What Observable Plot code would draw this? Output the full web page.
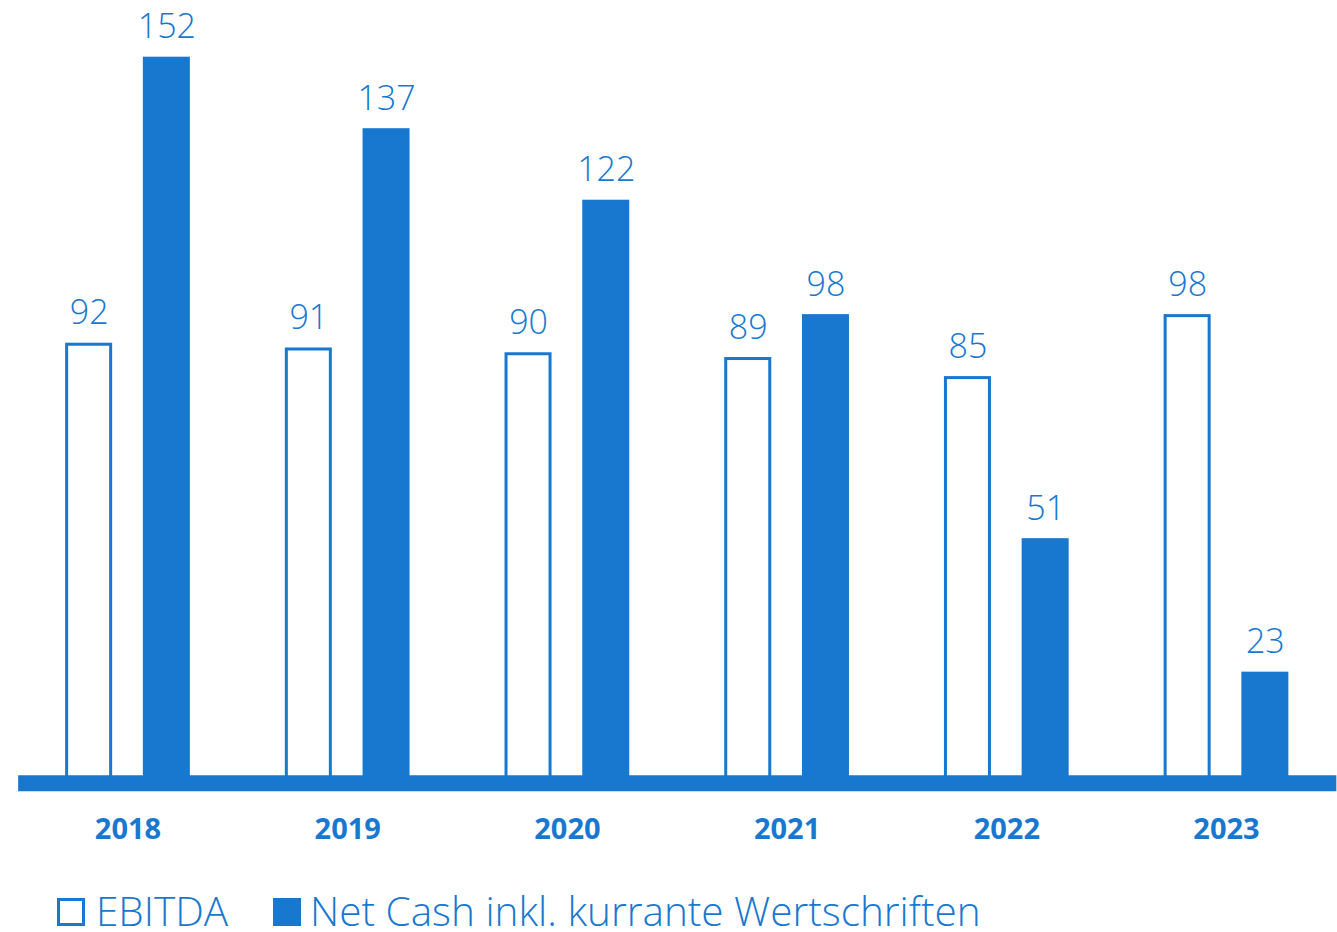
<!DOCTYPE html>
<html><head><meta charset="utf-8">
<script src="https://cdn.jsdelivr.net/npm/d3@7"></script>
<script src="https://cdn.jsdelivr.net/npm/@observablehq/plot@0.6"></script>
<style>
body{margin:0;background:#fff;font-family:"Open Sans",sans-serif;}
#chart svg{display:block;}
#legend{position:relative;height:72px;width:1337px;color:#1878cf;}
#legend .sw{position:absolute;top:38px;width:28px;height:28px;box-sizing:border-box;}
#legend .lab{position:absolute;top:35px;font-size:40.5px;line-height:0.8;font-weight:300;white-space:nowrap;}
</style></head><body>
<div id="chart"></div>
<div id="legend"></div>
<script>
const years = ["2018", "2019", "2020", "2021", "2022", "2023"];
const ebitda = [92, 91, 90, 89, 85, 98];
const netCash = [152, 137, 122, 98, 51, 23];
const series = ["EBITDA", "Net Cash inkl. kurrante Wertschriften"];
const blue = "#1878cf";

const rows = years.flatMap((y, i) => [
  {year: y, series: series[0], value: ebitda[i]},
  {year: y, series: series[1], value: netCash[i]}
]);

const plot = Plot.plot({
  width: 1337, height: 860,
  marginLeft: 17.65, marginRight: 1.15, marginTop: 56.7, marginBottom: 78.7,
  style: {fontFamily: "'Open Sans', sans-serif", background: "#fff"},
  fx: {domain: years, padding: 0, round: false, axis: null, label: null},
  x: {domain: series, paddingInner: 0.395, paddingOuter: 0.611, round: false, axis: null, label: null},
  y: {domain: [0, 152], axis: null},
  color: {domain: series, range: ["#ffffff", blue]},
  marks: [
    Plot.barY(rows, {fx: "year", x: "series", y: "value", fill: "series", stroke: blue, strokeWidth: 3, inset: 1.5}),
    Plot.frame({facet: "super", anchor: "bottom", stroke: blue, strokeWidth: 16, strokeLinecap: "butt", dy: 1.5}),
    Plot.text(rows, {fx: "year", x: "series", y: "value", text: d => String(d.value), lineAnchor: "bottom", dy: -19, fill: blue, fontSize: 34, fontWeight: 300, letterSpacing: "-1px"}),
    Plot.text(years, {fx: d => d, text: d => d, frameAnchor: "bottom", dy: 57, fill: blue, fontSize: 29, fontWeight: 700})
  ]
});
document.getElementById("chart").append(plot);

const legend = document.getElementById("legend");
const items = [
  {name: series[0], sw: 57, lab: 96, filled: false},
  {name: series[1], sw: 273, lab: 310, filled: true}
];
for (const it of items) {
  const s = document.createElement("div");
  s.className = "sw";
  s.style.left = it.sw + "px";
  if (it.filled) s.style.background = blue; else s.style.border = "3.5px solid " + blue;
  legend.append(s);
  const t = document.createElement("span");
  t.className = "lab";
  t.style.left = it.lab + "px";
  t.textContent = it.name;
  legend.append(t);
}
</script>
</body></html>
